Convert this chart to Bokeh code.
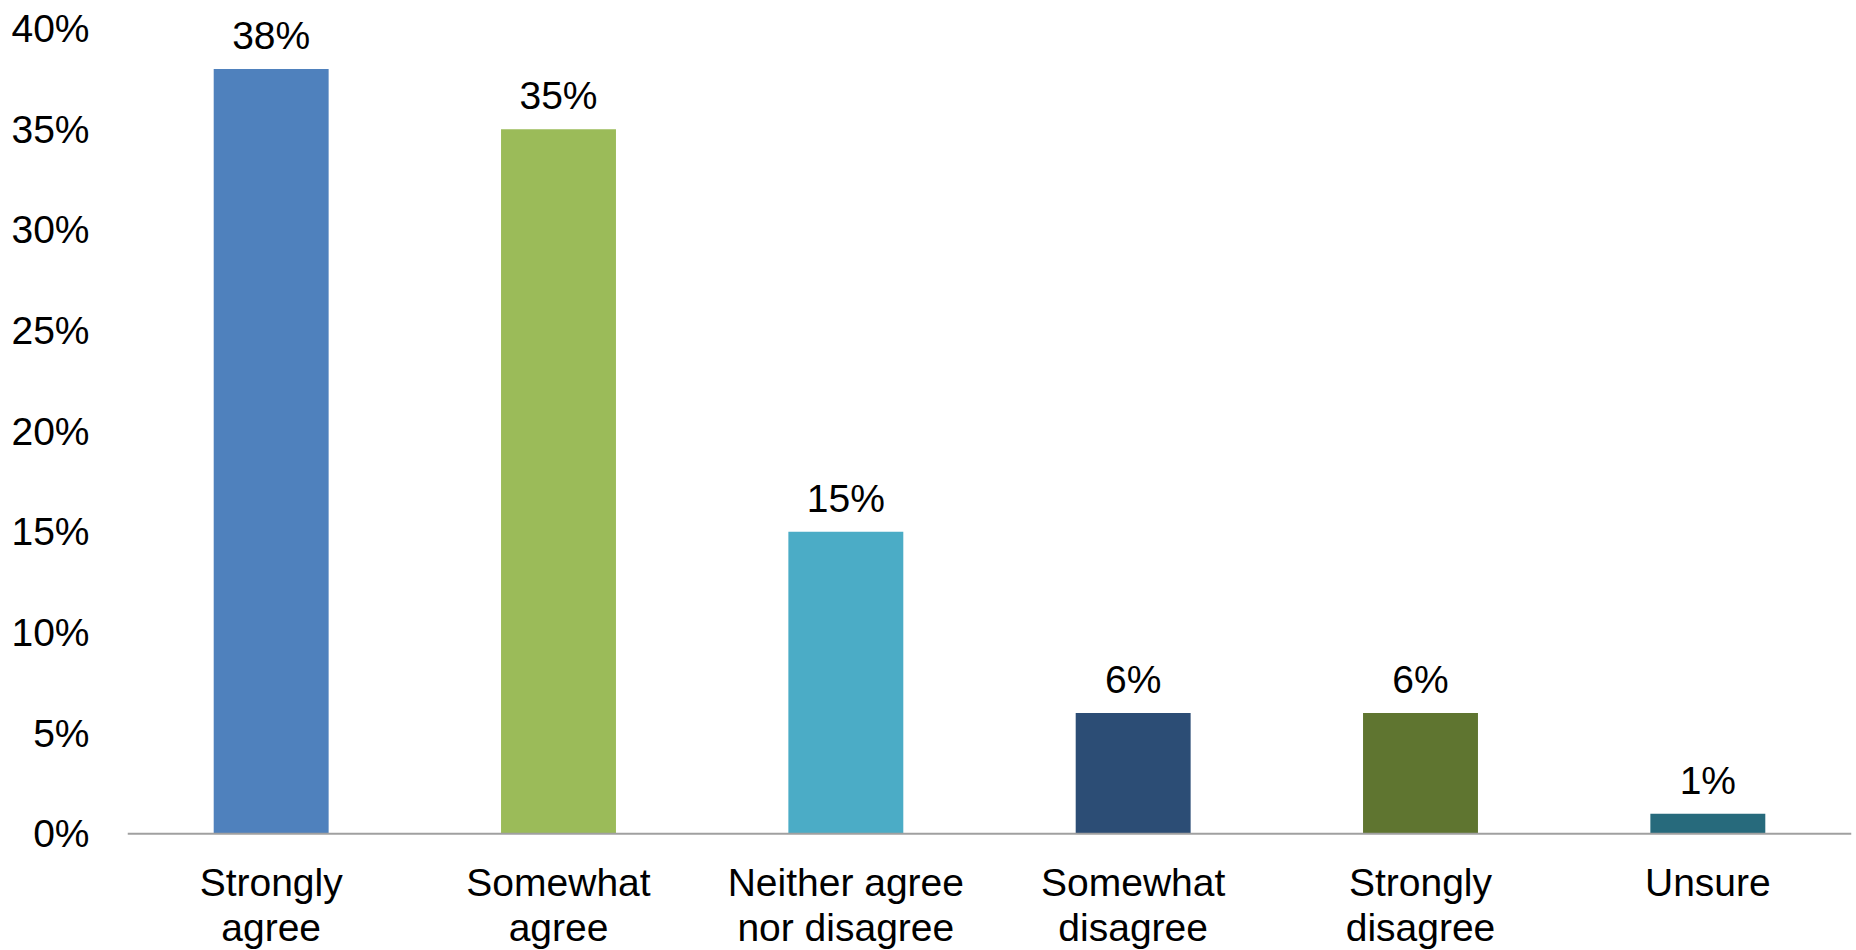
from bokeh.plotting import figure
from bokeh.models import ColumnDataSource, Range1d, FixedTicker, NumeralTickFormatter, LabelSet, Span
from bokeh.core.properties import value
from bokeh.embed import file_html
from bokeh.resources import INLINE

categories = ["Strongly\nagree", "Somewhat\nagree", "Neither agree\nnor disagree",
              "Somewhat\ndisagree", "Strongly\ndisagree", "Unsure"]
shares = [0.38, 0.35, 0.15, 0.06, 0.06, 0.01]
colors = ["#4F81BD", "#9BBB59", "#4BACC6", "#2C4D75", "#5F7530", "#276A7C"]
y_ticks = [0, 0.05, 0.10, 0.15, 0.20, 0.25, 0.30, 0.35, 0.40]

FONT = "Liberation Sans"
FS = "39px"

labels = [f"{round(v * 100)}%" for v in shares]
src = ColumnDataSource(dict(cat=categories, val=shares, color=colors, label=labels))

first = [c.split("\n")[0] for c in categories]
line1_src = ColumnDataSource(dict(cat=categories, zero=[0] * len(categories), txt=first))
second_cat = [c for c in categories if "\n" in c]
line2_src = ColumnDataSource(dict(cat=second_cat, zero=[0] * len(second_cat),
                                  txt=[c.split("\n")[1] for c in second_cat]))

# y range extends a little beyond 0-40% only so that the labels sit inside the frame
p = figure(x_range=categories, y_range=Range1d(-0.058, 0.414), width=1856, height=950,
           output_backend="svg", toolbar_location=None,
           min_border_left=127, min_border_right=5, min_border_top=0, min_border_bottom=0)

p.vbar(x="cat", top="val", width=0.4, color="color", source=src, line_color=None)
p.add_layout(Span(location=0, dimension="width", line_color="#A0A0A0", line_width=2))

text_style = dict(text_align="center", text_baseline="alphabetic",
                  text_font=value(FONT), text_font_size=value(FS), text_color="#000000")
p.add_layout(LabelSet(x="cat", y="val", text="label", source=src, y_offset=20, **text_style))
p.add_layout(LabelSet(x="cat", y="zero", text="txt", source=line1_src, y_offset=-62, **text_style))
p.add_layout(LabelSet(x="cat", y="zero", text="txt", source=line2_src, y_offset=-107, **text_style))

p.outline_line_color = None
p.xgrid.grid_line_color = None
p.ygrid.grid_line_color = None
p.background_fill_color = "white"
p.border_fill_color = "white"
p.xaxis.visible = False

p.yaxis.ticker = FixedTicker(ticks=y_ticks)
p.yaxis.formatter = NumeralTickFormatter(format="0%")
p.yaxis.axis_line_color = None
p.yaxis.major_tick_line_color = None
p.yaxis.minor_tick_line_color = None
p.yaxis.major_label_standoff = 32
p.yaxis.major_label_text_font = FONT
p.yaxis.major_label_text_font_size = FS
p.yaxis.major_label_text_color = "#000000"

open("out.html", "w").write(file_html(p, INLINE))
